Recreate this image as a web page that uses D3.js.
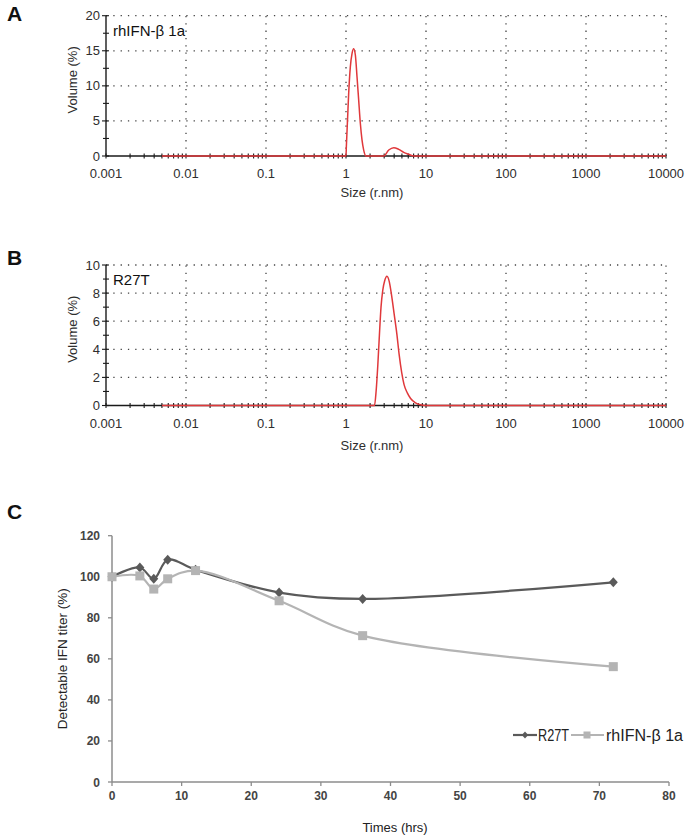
<!DOCTYPE html>
<html><head><meta charset="utf-8">
<script src="https://cdn.jsdelivr.net/npm/d3@7"></script>
<style>
html,body{margin:0;padding:0;background:#fff;}
svg{display:block;font-family:Arial,"Liberation Sans",sans-serif;}
</style></head>
<body>
<script>
// ---------- Data ----------
// Panel A: rhIFN-β 1a size distribution (size nm, volume %)
const sizeA   = [0.005, 1.0, 1.01, 1.049, 1.08, 1.133, 1.189, 1.247, 1.309, 1.373, 1.44, 1.51, 1.585, 1.664, 1.78, 2.96, 3.42, 3.95, 4.56, 5.27, 6.08, 7.03, 10000];
const volumeA = [0,     0,   1.3,  5.6,   8.9,  12.7,  14.6,  15.3,  14.4,  11.3,  8.0,  4.7,  2.3,   0.85,  0,    0,    0.85, 1.19, 0.95, 0.52, 0.24, 0,    0];
// Panel B: R27T size distribution
const sizeB   = [0.005, 2.27, 2.38, 2.50, 2.62, 2.74, 2.88, 3.05, 3.25, 3.48, 3.71, 4.0, 4.32, 4.61, 4.97, 5.31, 5.84, 6.42, 7.39, 8.5, 9.8, 10000];
const volumeB = [0,     0,    1.03, 2.9,  5.1,  7.0,  8.2,  8.9,  9.2,  8.8,  7.85, 6.5, 5.1,  3.66, 2.34, 1.5,  0.9,  0.5,  0.19, 0.05, 0,  0];
const sizeTicks = [0.001, 0.01, 0.1, 1, 10, 100, 1000, 10000];
const sizeTickLabels = ["0.001", "0.01", "0.1", "1", "10", "100", "1000", "10000"];
const volTicksA = [0, 5, 10, 15, 20];
const volTicksB = [0, 2, 4, 6, 8, 10];

// Panel C: detectable IFN titer over time
const timesC = [0, 4, 6, 8, 12, 24, 36, 72];
const titerR27T = [100, 104.5, 99, 108.3, 103.4, 92.3, 89.2, 97.3];
const titerRh   = [100, 100.4, 94, 99, 103, 88.3, 71.3, 56.2];
const timeTicks = [0, 10, 20, 30, 40, 50, 60, 70, 80];
const titerTicks = [0, 20, 40, 60, 80, 100, 120];
const seriesNames = ["R27T", "rhIFN-β 1a"];

// ---------- Setup ----------
const W = 687, H = 836;
const svg = d3.select("body").append("svg").attr("width", W).attr("height", H);

const RED = "#e0383b";
const AX = "#1a1a1a";
const TXT = "#2e2e2e";

function panelLabel(t, y) {
  svg.append("text").attr("x", 7).attr("y", y).text(t)
    .attr("font-size", 21).attr("font-weight", "bold").attr("fill", "#111");
}

function dlsPanel(cfg) {
  const x = d3.scaleLog().domain([0.001, 10000]).range([106, 666]);
  const y = d3.scaleLinear().domain([0, cfg.ymax]).range([cfg.bottom, cfg.top]);
  const g = svg.append("g");
  // dotted grid
  const grid = g.append("g").attr("stroke", "#444").attr("stroke-width", 1.3)
    .attr("stroke-dasharray", "1.3,6");
  cfg.yticks.slice(1).forEach(v => {
    grid.append("line").attr("x1", x(0.001)).attr("x2", x(10000))
      .attr("y1", y(v)).attr("y2", y(v));
  });
  sizeTicks.slice(1).forEach(v => {
    grid.append("line").attr("x1", x(v)).attr("x2", x(v))
      .attr("y1", y(0)).attr("y2", y(cfg.ymax));
  });
  // axes
  g.append("line").attr("x1", x(0.001)).attr("x2", x(10000)).attr("y1", y(0)).attr("y2", y(0))
    .attr("stroke", AX).attr("stroke-width", 1.4);
  g.append("line").attr("x1", x(0.001)).attr("x2", x(0.001)).attr("y1", y(0)).attr("y2", y(cfg.ymax))
    .attr("stroke", AX).attr("stroke-width", 1.4);
  // x minor/major ticks crossing
  const tk = g.append("g").attr("stroke", AX).attr("stroke-width", 1.1);
  for (let d = -3; d < 4; d++) {
    for (let m = 1; m <= 9; m++) {
      const v = m * Math.pow(10, d);
      tk.append("line").attr("x1", x(v)).attr("x2", x(v)).attr("y1", y(0) - 2.5).attr("y2", y(0) + 2.5);
    }
  }
  tk.append("line").attr("x1", x(10000)).attr("x2", x(10000)).attr("y1", y(0) - 2.5).attr("y2", y(0) + 2.5);
  // y ticks
  const step = cfg.yticks[1] - cfg.yticks[0];
  for (let v = 0; v <= cfg.ymax + 1e-9; v += step / 2) {
    const major = Math.abs(v / step - Math.round(v / step)) < 1e-6;
    tk.append("line").attr("x1", x(0.001) - (major ? 4 : 3)).attr("x2", x(0.001) + 3)
      .attr("y1", y(v)).attr("y2", y(v));
  }
  // labels
  sizeTicks.forEach((v, i) => {
    g.append("text").attr("x", x(v)).attr("y", y(0) + 22).attr("text-anchor", "middle")
      .attr("font-size", 13).attr("fill", TXT).text(sizeTickLabels[i]);
  });
  cfg.yticks.forEach(v => {
    g.append("text").attr("x", x(0.001) - 6).attr("y", y(v) + 4.5).attr("text-anchor", "end")
      .attr("font-size", 13).attr("fill", TXT).text(v);
  });
  g.append("text").attr("transform", `translate(77,${(cfg.top + cfg.bottom) / 2 - 6}) rotate(-90)`)
    .attr("text-anchor", "middle").attr("font-size", 13).attr("fill", TXT).text("Volume (%)");
  g.append("text").attr("x", 372).attr("y", cfg.xlabelY).attr("text-anchor", "middle")
    .attr("font-size", 13).attr("fill", TXT).text("Size (r.nm)");
  g.append("text").attr("x", 113).attr("y", cfg.top + 20).attr("font-size", 15)
    .attr("fill", "#111").text(cfg.name);
  // curve
  const pts = cfg.sizes.map((s, i) => [s, cfg.vols[i]]);
  const line = d3.line().x(d => x(d[0])).y(d => y(d[1])).curve(d3.curveMonotoneX);
  g.append("path").attr("d", line(pts)).attr("fill", "none").attr("stroke", RED).attr("stroke-width", 1.5);
}

panelLabel("A", 21);
dlsPanel({top: 15.7, bottom: 156, ymax: 20, yticks: volTicksA, sizes: sizeA, vols: volumeA, name: "rhIFN-β 1a", xlabelY: 197});
panelLabel("B", 265);
dlsPanel({top: 265, bottom: 405.5, ymax: 10, yticks: volTicksB, sizes: sizeB, vols: volumeB, name: "R27T", xlabelY: 450});
panelLabel("C", 519);

// ---------- Panel C ----------
const xc = d3.scaleLinear().domain([0, 80]).range([112, 669]);
const yc = d3.scaleLinear().domain([0, 120]).range([782, 535.7]);
const gc = svg.append("g");
const AXC = "#8c8c8c";
gc.append("line").attr("x1", xc(0)).attr("x2", xc(80)).attr("y1", yc(0)).attr("y2", yc(0)).attr("stroke", AXC).attr("stroke-width", 1.5);
gc.append("line").attr("x1", xc(0)).attr("x2", xc(0)).attr("y1", yc(0)).attr("y2", yc(120)).attr("stroke", AXC).attr("stroke-width", 1.5);
timeTicks.forEach(v => {
  gc.append("line").attr("x1", xc(v)).attr("x2", xc(v)).attr("y1", yc(0)).attr("y2", yc(0) + 4).attr("stroke", AXC).attr("stroke-width", 1.3);
  gc.append("text").attr("x", xc(v)).attr("y", yc(0) + 18).attr("text-anchor", "middle")
    .attr("font-size", 12).attr("font-weight", "bold").attr("fill", "#444").text(v);
});
titerTicks.forEach(v => {
  gc.append("line").attr("x1", xc(0) - 4).attr("x2", xc(0)).attr("y1", yc(v)).attr("y2", yc(v)).attr("stroke", AXC).attr("stroke-width", 1.3);
  gc.append("text").attr("x", xc(0) - 12).attr("y", yc(v) + 4.5).attr("text-anchor", "end")
    .attr("font-size", 12).attr("font-weight", "bold").attr("fill", "#444").text(v);
});
gc.append("text").attr("x", 395).attr("y", 832).attr("text-anchor", "middle")
  .attr("font-size", 13).attr("fill", "#222").text("Times (hrs)");
gc.append("text").attr("transform", `translate(67,${(yc(0) + yc(120)) / 2}) rotate(-90)`)
  .attr("text-anchor", "middle").attr("font-size", 13.5).attr("fill", "#222").text("Detectable IFN titer (%)");

const lineC = d3.line().x(d => xc(d[0])).y(d => yc(d[1])).curve(d3.curveCatmullRom.alpha(0.5));
const dataR = timesC.map((t, i) => [t, titerR27T[i]]);
const dataS = timesC.map((t, i) => [t, titerRh[i]]);
const DARK = "#5a5a5a", LIGHT = "#b4b4b4";
function diamond(cx, cy, r) { return `M${cx},${cy - r}L${cx + r * 0.9},${cy}L${cx},${cy + r}L${cx - r * 0.9},${cy}Z`; }

gc.append("path").attr("d", lineC(dataR)).attr("fill", "none").attr("stroke", DARK).attr("stroke-width", 2.2);
gc.selectAll(".dm").data(dataR).join("path").attr("d", d => diamond(xc(d[0]), yc(d[1]), 5)).attr("fill", DARK);
gc.append("path").attr("d", lineC(dataS)).attr("fill", "none").attr("stroke", LIGHT).attr("stroke-width", 2.2);
gc.selectAll(".sq").data(dataS).join("rect")
  .attr("x", d => xc(d[0]) - 4.5).attr("y", d => yc(d[1]) - 4.5).attr("width", 9).attr("height", 9).attr("fill", LIGHT);

// legend
const lg = svg.append("g");
const ly = 735;
lg.append("line").attr("x1", 513).attr("x2", 537).attr("y1", ly).attr("y2", ly).attr("stroke", DARK).attr("stroke-width", 2.2);
lg.append("path").attr("d", diamond(525, ly, 3.5)).attr("fill", DARK);
lg.append("text").attr("x", 538).attr("y", ly + 6).attr("font-size", 16).attr("fill", "#222")
  .attr("textLength", 31).attr("lengthAdjust", "spacingAndGlyphs").text(seriesNames[0]);
lg.append("line").attr("x1", 571).attr("x2", 604).attr("y1", ly).attr("y2", ly).attr("stroke", LIGHT).attr("stroke-width", 2.2);
lg.append("rect").attr("x", 583.5).attr("y", ly - 3.5).attr("width", 7).attr("height", 7).attr("fill", LIGHT);
lg.append("text").attr("x", 606).attr("y", ly + 6).attr("font-size", 16).attr("fill", "#222")
  .attr("textLength", 77).attr("lengthAdjust", "spacingAndGlyphs").text(seriesNames[1]);
</script>
</body></html>
